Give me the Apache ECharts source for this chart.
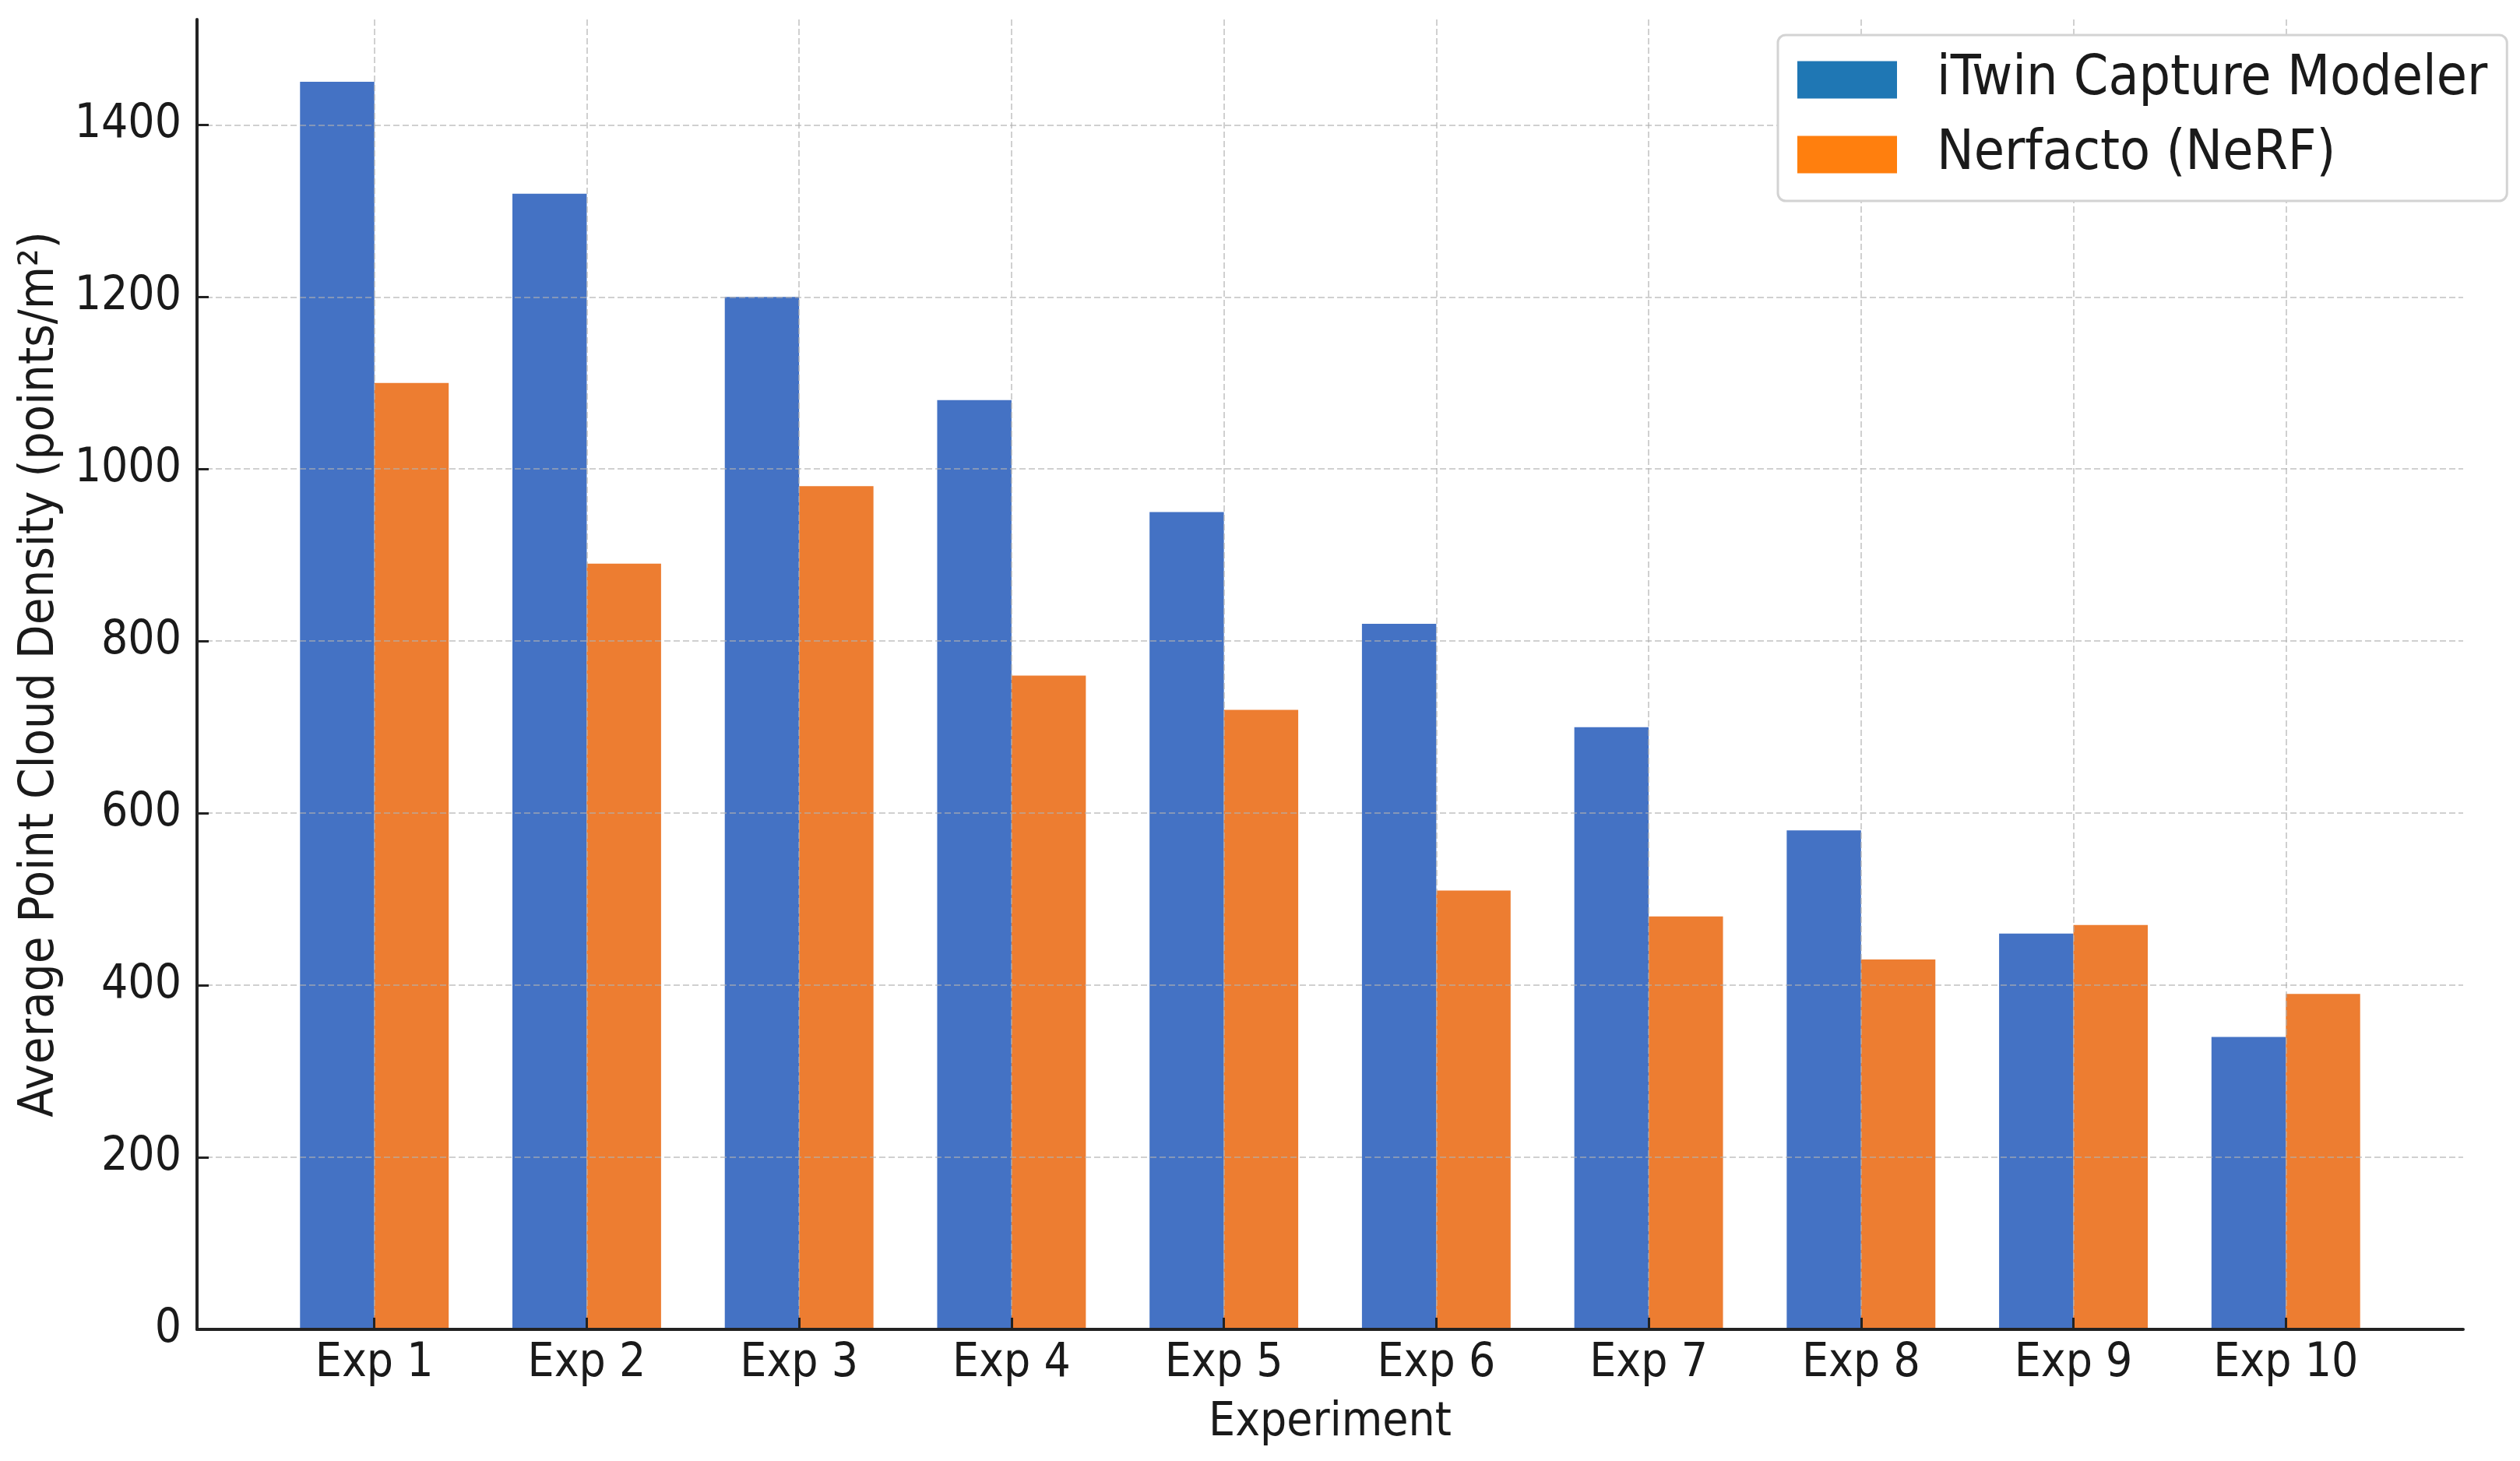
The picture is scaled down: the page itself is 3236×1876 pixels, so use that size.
<!DOCTYPE html>
<html>
<head>
<meta charset="utf-8">
<script src="https://cdn.jsdelivr.net/npm/echarts@6/dist/echarts.min.js"></script>
<style>
html,body{margin:0;padding:0;background:#fff;}
#chart{width:3236px;height:1876px;}
</style>
</head>
<body>
<div id="chart"></div>
<script>
// ---- data ----
const categories = ['Exp 1','Exp 2','Exp 3','Exp 4','Exp 5','Exp 6','Exp 7','Exp 8','Exp 9','Exp 10'];
const itwinValues = [1450, 1320, 1200, 1080, 950, 820, 700, 580, 460, 340];
const nerfValues = [1100, 890, 980, 760, 720, 510, 480, 430, 470, 390];
const seriesNames = ['iTwin Capture Modeler', 'Nerfacto (NeRF)'];
const xTitle = 'Experiment';
const yTitle = 'Average Point Cloud Density (points/m²)';
const yTickMax = 1400;
const yTickStep = 200;
const yAxisTop = 1522.5;

// ---- layout ----
const W = 3236, H = 1876;
const plotL = 253, plotR = 3163, plotT = 25, plotB = 1707;
const xMinU = -0.835, xMaxU = 9.835;
const pxPerUnit = (plotR - plotL) / (xMaxU - xMinU);
const c0 = plotL + (0 - xMinU) * pxPerUnit;
const pxPerVal = (plotB - plotT) / yAxisTop;
const yTickTop = plotB - yTickMax * pxPerVal;

const FONT = '"DejaVu Sans Condensed", "DejaVu Sans", sans-serif';
const TXT = '#1a1a1a';
const gridLine = {show: true, lineStyle: {color: 'rgba(176,176,176,0.6)', width: 2, type: [8, 4]}};

const chart = echarts.init(document.getElementById('chart'), null, {renderer: 'canvas', devicePixelRatio: 1, width: W, height: H});

const option = {
  backgroundColor: '#ffffff',
  animation: false,
  textStyle: {fontFamily: FONT, color: TXT},
  grid: [
    {left: plotL, top: plotT, width: plotR - plotL, height: plotB - plotT, containLabel: false},
    {left: plotL, top: yTickTop, width: plotR - plotL, height: plotB - yTickTop, containLabel: false},
    {left: c0 - pxPerUnit / 2, top: plotT, width: pxPerUnit * categories.length, height: plotB - plotT, containLabel: false},
    {left: c0, top: plotT, width: pxPerUnit * (categories.length - 1), height: plotB - plotT, containLabel: false}
  ],
  xAxis: [
    {gridIndex: 0, type: 'value', min: 0, max: 1, z: 6,
      axisLine: {show: true, lineStyle: {color: '#222', width: 4}},
      axisTick: {show: false}, axisLabel: {show: false}, splitLine: {show: false},
      name: xTitle, nameLocation: 'middle', nameGap: 90,
      nameTextStyle: {fontFamily: FONT, fontSize: 60, color: TXT}},
    {gridIndex: 1, type: 'value', show: false},
    {gridIndex: 2, type: 'category', data: categories, z: 6,
      axisLine: {show: false},
      axisTick: {show: true, inside: true, alignWithLabel: true, length: 15, lineStyle: {color: '#222', width: 3}},
      axisLabel: {show: true, fontFamily: FONT, fontSize: 60, color: TXT, margin: 14},
      splitLine: {show: false}},
    {gridIndex: 3, type: 'value', min: 0, max: categories.length - 1, interval: 1, z: 5,
      axisLine: {show: false}, axisTick: {show: false}, axisLabel: {show: false},
      splitLine: gridLine}
  ],
  yAxis: [
    {gridIndex: 0, type: 'value', min: 0, max: yAxisTop, z: 6,
      axisLine: {show: true, lineStyle: {color: '#222', width: 4}},
      axisTick: {show: false}, axisLabel: {show: false}, splitLine: {show: false},
      name: yTitle, nameLocation: 'middle', nameGap: 170, nameRotate: 90,
      nameTextStyle: {fontFamily: FONT, fontSize: 63, color: TXT}},
    {gridIndex: 1, type: 'value', min: 0, max: yTickMax, interval: yTickStep, z: 5,
      axisLine: {show: false},
      axisTick: {show: true, inside: true, length: 15, lineStyle: {color: '#222', width: 3}},
      axisLabel: {show: true, fontFamily: FONT, fontSize: 60, color: TXT, margin: 20,
        formatter: function (v) { return String(v); }},
      splitLine: gridLine},
    {gridIndex: 2, type: 'value', min: 0, max: yAxisTop, show: false},
    {gridIndex: 3, type: 'value', min: 0, max: yAxisTop, show: false}
  ],
  legend: {
    show: true, orient: 'vertical', left: 2283, top: 45, z: 10,
    padding: [22, 25, 24, 25],
    itemWidth: 128, itemHeight: 48, itemGap: 25,
    backgroundColor: '#ffffff', borderColor: '#d3d3d3', borderWidth: 3, borderRadius: 10,
    textStyle: {fontFamily: FONT, fontSize: 71, color: TXT, lineHeight: 48, padding: [0, 0, 0, 46]},
    data: [
      {name: seriesNames[0], icon: 'rect', itemStyle: {color: '#1f77b4'}},
      {name: seriesNames[1], icon: 'rect', itemStyle: {color: '#ff7f0e'}}
    ]
  },
  series: [
    {name: seriesNames[0], type: 'bar', xAxisIndex: 2, yAxisIndex: 2, data: itwinValues,
      barWidth: 0.35 * pxPerUnit, barGap: '0%', itemStyle: {color: '#4472C4'}, z: 2},
    {name: seriesNames[1], type: 'bar', xAxisIndex: 2, yAxisIndex: 2, data: nerfValues,
      barWidth: 0.35 * pxPerUnit, barGap: '0%', itemStyle: {color: '#ED7D31'}, z: 2}
  ]
};
chart.setOption(option);
</script>
</body>
</html>
